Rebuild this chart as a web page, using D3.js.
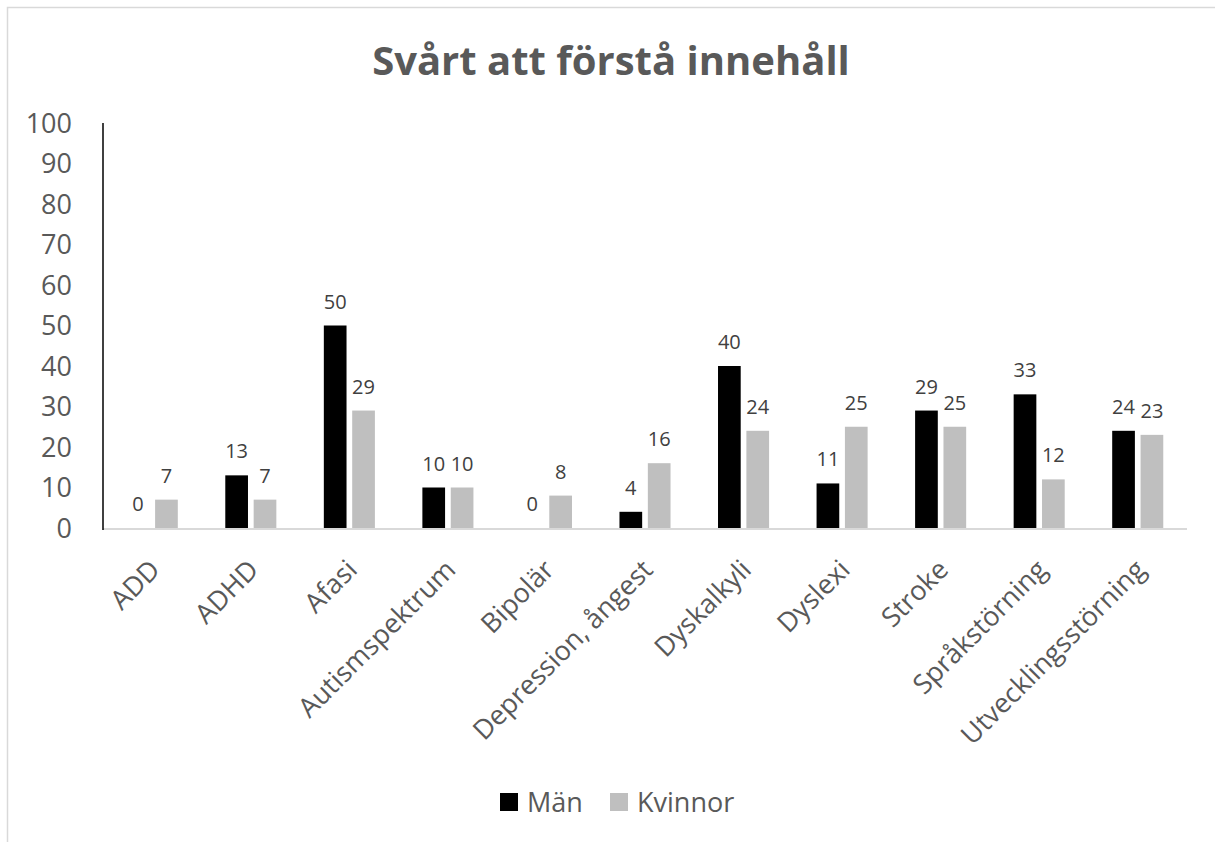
<!DOCTYPE html>
<html>
<head>
<meta charset="utf-8">
<script src="https://cdn.jsdelivr.net/npm/d3@7"></script>
<style>
  html, body { margin: 0; padding: 0; background: #fff; }
  svg { display: block; font-family: "Open Sans", sans-serif; }
</style>
</head>
<body>
<svg id="chart" width="1215" height="842"></svg>
<script>
// chart data
const categories = ["ADD", "ADHD", "Afasi", "Autismspektrum", "Bipolär", "Depression, ångest",
  "Dyskalkyli", "Dyslexi", "Stroke", "Språkstörning", "Utvecklingsstörning"];
const seriesNames = ["Män", "Kvinnor"];
const manValues = [0, 13, 50, 10, 0, 4, 40, 11, 29, 33, 24];
const kvinnorValues = [7, 7, 29, 10, 8, 16, 24, 25, 25, 12, 23];
const yTicks = [0, 10, 20, 30, 40, 50, 60, 70, 80, 90, 100];
const title = "Svårt att förstå innehåll";

const colors = { "Män": "#000000", "Kvinnor": "#bfbfbf" };
const seriesValues = { "Män": manValues, "Kvinnor": kvinnorValues };

const svg = d3.select("#chart");

// outer chart frame (cut off at right and bottom like the screenshot)
svg.append("rect")
  .attr("x", 7.5).attr("y", 7.5)
  .attr("width", 1400).attr("height", 1000)
  .attr("fill", "none")
  .attr("stroke", "#d9d9d9")
  .attr("stroke-width", 1.5);

const plot = { left: 103, right: 1187, top: 123, bottom: 528 };

// title
svg.append("text")
  .attr("x", 611).attr("y", 75)
  .attr("text-anchor", "middle")
  .attr("font-size", 40)
  .attr("font-weight", "bold")
  .attr("fill", "#595959")
  .text(title);

const x0 = d3.scaleBand()
  .domain(categories)
  .range([plot.left, plot.right])
  .padding(0);

const x1 = d3.scaleBand()
  .domain(seriesNames)
  .range([0, x0.bandwidth()])
  .paddingInner(0.2)
  .paddingOuter(0.837);

const y = d3.scaleLinear()
  .domain([0, 100])
  .range([plot.bottom, plot.top]);

// y tick labels
svg.append("g")
  .selectAll("text")
  .data(yTicks)
  .enter()
  .append("text")
  .attr("x", 72)
  .attr("y", d => y(d))
  .attr("dy", "0.36em")
  .attr("text-anchor", "end")
  .attr("font-size", 27)
  .attr("fill", "#595959")
  .text(d => d);

// bars
const groups = svg.append("g")
  .selectAll("g")
  .data(categories)
  .enter()
  .append("g")
  .attr("transform", d => "translate(" + x0(d) + ",0)");

const barData = (c, i) => seriesNames.map(s => ({ series: s, value: seriesValues[s][i] }));

groups.selectAll("rect")
  .data(barData)
  .enter()
  .append("rect")
  .attr("x", d => x1(d.series))
  .attr("y", d => y(d.value))
  .attr("width", x1.bandwidth())
  .attr("height", d => y(0) - y(d.value))
  .attr("fill", d => colors[d.series]);

// value labels
groups.selectAll("text")
  .data(barData)
  .enter()
  .append("text")
  .attr("x", d => x1(d.series) + x1.bandwidth() / 2)
  .attr("y", d => y(d.value) - 17)
  .attr("text-anchor", "middle")
  .attr("font-size", 20)
  .attr("fill", "#404040")
  .text(d => d.value);

// baseline (x axis) and y axis line
svg.append("line")
  .attr("x1", plot.left).attr("x2", plot.right)
  .attr("y1", y(0) + 1).attr("y2", y(0) + 1)
  .attr("stroke", "#d9d9d9")
  .attr("stroke-width", 2);

svg.append("line")
  .attr("x1", plot.left).attr("x2", plot.left)
  .attr("y1", plot.top).attr("y2", y(0) + 2)
  .attr("stroke", "#000")
  .attr("stroke-width", 1.5);

// rotated category labels
svg.append("g")
  .selectAll("text")
  .data(categories)
  .enter()
  .append("text")
  .attr("transform", d => "translate(" + (x0(d) + x0.bandwidth() / 2 - 4) + "," + (plot.bottom + 30) + ") rotate(-45)")
  .attr("text-anchor", "end")
  .attr("dy", "0.7em")
  .attr("font-size", 27)
  .attr("fill", "#595959")
  .text(d => d);

// legend
const legendItems = [
  { name: "Män", x: 500 },
  { name: "Kvinnor", x: 610 }
];
const legend = svg.append("g");
legend.selectAll("rect")
  .data(legendItems)
  .enter()
  .append("rect")
  .attr("x", d => d.x).attr("y", 793)
  .attr("width", 18).attr("height", 18)
  .attr("fill", d => colors[d.name]);
legend.selectAll("text")
  .data(legendItems)
  .enter()
  .append("text")
  .attr("x", d => d.x + 27)
  .attr("y", 802)
  .attr("dy", "0.36em")
  .attr("font-size", 27)
  .attr("fill", "#595959")
  .text(d => d.name);
</script>
</body>
</html>
